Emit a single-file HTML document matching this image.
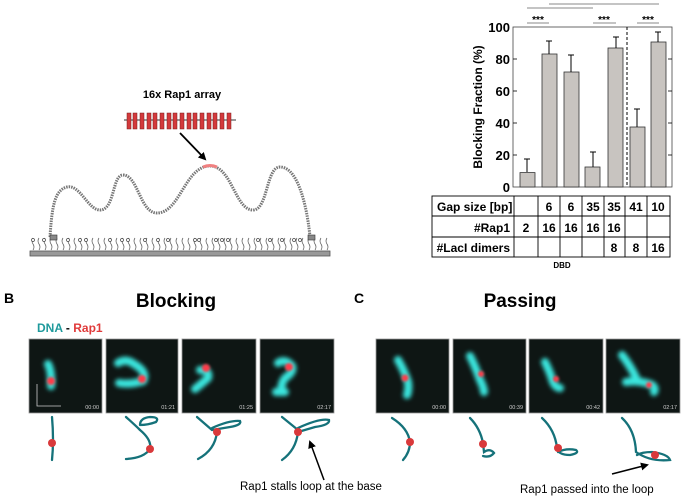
<!DOCTYPE html>
<html><head><style>
html,body{margin:0;padding:0;background:#fff}
svg{display:block}
text{font-family:"Liberation Sans",sans-serif}
</style></head><body>
<svg width="684" height="498" viewBox="0 0 684 498" xmlns="http://www.w3.org/2000/svg">
<defs>
<filter id="bl" x="-50%" y="-50%" width="200%" height="200%"><feGaussianBlur stdDeviation="2"/></filter>
<filter id="bl2" x="-50%" y="-50%" width="200%" height="200%"><feGaussianBlur stdDeviation="1.2"/></filter>
<marker id="ah" markerWidth="8" markerHeight="8" refX="6" refY="4" orient="auto" markerUnits="userSpaceOnUse"><path d="M0,0 L8,4 L0,8 z" fill="#000"/></marker>
</defs>

<text x="182" y="98" font-size="11" font-weight="bold" text-anchor="middle">16x Rap1 array</text>
<line x1="124" y1="120" x2="236" y2="120" stroke="#333" stroke-width="1"/>
<g fill="#d33a3c" stroke="#7a1a1a" stroke-width="0.5">
<rect x="127" y="113" width="4" height="16"/><rect x="133" y="113" width="4" height="16"/><rect x="140" y="113" width="4" height="16"/><rect x="147" y="113" width="4" height="16"/><rect x="153" y="113" width="4" height="16"/><rect x="160" y="113" width="4" height="16"/><rect x="167" y="113" width="4" height="16"/><rect x="173" y="113" width="4" height="16"/><rect x="180" y="113" width="4" height="16"/><rect x="187" y="113" width="4" height="16"/><rect x="193" y="113" width="4" height="16"/><rect x="200" y="113" width="4" height="16"/><rect x="207" y="113" width="4" height="16"/><rect x="213" y="113" width="4" height="16"/><rect x="220" y="113" width="4" height="16"/><rect x="227" y="113" width="4" height="16"/>
</g>
<line x1="180" y1="133" x2="205" y2="159" stroke="#000" stroke-width="1.8" marker-end="url(#ah)"/>
<path d="M50,237 C52,205 55,190 67,187 C80,184 88,210 100,210 C115,210 112,175 123,175 C138,175 140,213 157,213 C180,213 185,166 210,166 C232,166 235,210 253,210 C268,210 266,167 280,167 C300,167 308,215 310,237" fill="none" stroke="#777" stroke-width="3" stroke-dasharray="1.5 1"/>
<path d="M203,167 Q210,164 217,167" fill="none" stroke="#f08080" stroke-width="3"/>
<rect x="30" y="251" width="300" height="5" fill="#999" stroke="#555" stroke-width="0.8"/>
<g stroke="#555" stroke-width="0.7" fill="none">
<path d="M33,250 q2,-3 0,-6 q-2,-3 0,-6 M39,250 q2,-3 0,-6 q-2,-3 0,-6 M45,250 q2,-3 0,-6 q-2,-3 0,-6 M51,250 q2,-3 0,-6 q-2,-3 0,-6 M57,250 q2,-3 0,-6 q-2,-3 0,-6 M63,250 q2,-3 0,-6 q-2,-3 0,-6 M69,250 q2,-3 0,-6 q-2,-3 0,-6 M75,250 q2,-3 0,-6 q-2,-3 0,-6 M81,250 q2,-3 0,-6 q-2,-3 0,-6 M87,250 q2,-3 0,-6 q-2,-3 0,-6 M93,250 q2,-3 0,-6 q-2,-3 0,-6 M99,250 q2,-3 0,-6 q-2,-3 0,-6 M105,250 q2,-3 0,-6 q-2,-3 0,-6 M111,250 q2,-3 0,-6 q-2,-3 0,-6 M117,250 q2,-3 0,-6 q-2,-3 0,-6 M123,250 q2,-3 0,-6 q-2,-3 0,-6 M129,250 q2,-3 0,-6 q-2,-3 0,-6 M135,250 q2,-3 0,-6 q-2,-3 0,-6 M141,250 q2,-3 0,-6 q-2,-3 0,-6 M147,250 q2,-3 0,-6 q-2,-3 0,-6 M153,250 q2,-3 0,-6 q-2,-3 0,-6 M159,250 q2,-3 0,-6 q-2,-3 0,-6 M165,250 q2,-3 0,-6 q-2,-3 0,-6 M171,250 q2,-3 0,-6 q-2,-3 0,-6 M177,250 q2,-3 0,-6 q-2,-3 0,-6 M183,250 q2,-3 0,-6 q-2,-3 0,-6 M189,250 q2,-3 0,-6 q-2,-3 0,-6 M195,250 q2,-3 0,-6 q-2,-3 0,-6 M201,250 q2,-3 0,-6 q-2,-3 0,-6 M207,250 q2,-3 0,-6 q-2,-3 0,-6 M213,250 q2,-3 0,-6 q-2,-3 0,-6 M219,250 q2,-3 0,-6 q-2,-3 0,-6 M225,250 q2,-3 0,-6 q-2,-3 0,-6 M231,250 q2,-3 0,-6 q-2,-3 0,-6 M237,250 q2,-3 0,-6 q-2,-3 0,-6 M243,250 q2,-3 0,-6 q-2,-3 0,-6 M249,250 q2,-3 0,-6 q-2,-3 0,-6 M255,250 q2,-3 0,-6 q-2,-3 0,-6 M261,250 q2,-3 0,-6 q-2,-3 0,-6 M267,250 q2,-3 0,-6 q-2,-3 0,-6 M273,250 q2,-3 0,-6 q-2,-3 0,-6 M279,250 q2,-3 0,-6 q-2,-3 0,-6 M285,250 q2,-3 0,-6 q-2,-3 0,-6 M291,250 q2,-3 0,-6 q-2,-3 0,-6 M297,250 q2,-3 0,-6 q-2,-3 0,-6 M303,250 q2,-3 0,-6 q-2,-3 0,-6 M309,250 q2,-3 0,-6 q-2,-3 0,-6 M315,250 q2,-3 0,-6 q-2,-3 0,-6 M321,250 q2,-3 0,-6 q-2,-3 0,-6 M327,250 q2,-3 0,-6 q-2,-3 0,-6"/>
</g>
<g fill="#fff" stroke="#444" stroke-width="0.7">
<circle cx="33" cy="240" r="1.5"/><circle cx="44" cy="240" r="1.5"/><circle cx="68" cy="240" r="1.5"/><circle cx="80" cy="240" r="1.5"/><circle cx="86" cy="240" r="1.5"/><circle cx="110" cy="240" r="1.5"/><circle cx="122" cy="240" r="1.5"/><circle cx="128" cy="240" r="1.5"/><circle cx="145" cy="240" r="1.5"/><circle cx="158" cy="240" r="1.5"/><circle cx="168" cy="240" r="1.5"/><circle cx="195" cy="240" r="1.5"/><circle cx="199" cy="240" r="1.5"/><circle cx="216" cy="240" r="1.5"/><circle cx="222" cy="240" r="1.5"/><circle cx="228" cy="240" r="1.5"/><circle cx="258" cy="240" r="1.5"/><circle cx="270" cy="240" r="1.5"/><circle cx="282" cy="240" r="1.5"/><circle cx="294" cy="240" r="1.5"/><circle cx="300" cy="240" r="1.5"/>
</g>
<rect x="50" y="235" width="7" height="5" fill="#888" stroke="#333" stroke-width="0.6"/>
<rect x="308" y="235" width="7" height="5" fill="#888" stroke="#333" stroke-width="0.6"/>

<line x1="527" y1="8" x2="593" y2="8" stroke="#888" stroke-width="1"/>
<line x1="549" y1="4" x2="659" y2="4" stroke="#888" stroke-width="1"/>
<g stroke="#888" stroke-width="1"><line x1="527" y1="23" x2="549" y2="23"/><line x1="593" y1="23" x2="616" y2="23"/><line x1="637" y1="23" x2="659" y2="23"/></g>
<g font-size="10" font-weight="bold" text-anchor="middle"><text x="538" y="23">***</text><text x="604" y="23">***</text><text x="648" y="23">***</text></g>
<rect x="513" y="27" width="159" height="160" fill="none" stroke="#444" stroke-width="0.8"/>
<line x1="627" y1="27" x2="627" y2="187" stroke="#000" stroke-width="1" stroke-dasharray="3 2"/>
<g stroke="#000" stroke-width="0.8">
<line x1="513" y1="155" x2="517" y2="155"/><line x1="513" y1="123" x2="517" y2="123"/><line x1="513" y1="91" x2="517" y2="91"/><line x1="513" y1="59" x2="517" y2="59"/>
<line x1="668" y1="155" x2="672" y2="155"/><line x1="668" y1="123" x2="672" y2="123"/><line x1="668" y1="91" x2="672" y2="91"/><line x1="668" y1="59" x2="672" y2="59"/>
</g>
<g font-size="13" font-weight="bold" text-anchor="end"><text x="510" y="32">100</text><text x="510" y="64">80</text><text x="510" y="96">60</text><text x="510" y="128">40</text><text x="510" y="160">20</text><text x="510" y="192">0</text></g>
<text transform="translate(482,107) rotate(-90)" font-size="12" font-weight="bold" text-anchor="middle">Blocking Fraction (%)</text>
<g fill="#c8c4c0" stroke="#333" stroke-width="0.8">
<rect x="520" y="172.6" width="15" height="14.4"/><rect x="542" y="54" width="15" height="133"/><rect x="564" y="72" width="15" height="115"/><rect x="585" y="167" width="15" height="20"/><rect x="608" y="48" width="15" height="139"/><rect x="630" y="127" width="15" height="60"/><rect x="651" y="42" width="15" height="145"/>
</g>
<g stroke="#000" stroke-width="1" fill="none">
<path d="M527,172 V159 M524,159 H530"/><path d="M549,54 V41 M546,41 H552"/><path d="M571,72 V55 M568,55 H574"/><path d="M593,167 V152 M590,152 H596"/><path d="M616,48 V37 M613,37 H619"/><path d="M637,127 V109 M634,109 H640"/><path d="M658,42 V32 M655,32 H661"/>
</g>
<g stroke="#000" stroke-width="0.9" fill="none">
<rect x="432" y="196" width="238" height="61"/>
<line x1="432" y1="216" x2="670" y2="216"/><line x1="432" y1="237" x2="670" y2="237"/>
<line x1="514" y1="196" x2="514" y2="257"/><line x1="538" y1="196" x2="538" y2="257"/><line x1="560" y1="196" x2="560" y2="257"/><line x1="582" y1="196" x2="582" y2="257"/><line x1="604" y1="196" x2="604" y2="257"/><line x1="625" y1="196" x2="625" y2="257"/><line x1="647" y1="196" x2="647" y2="257"/>
</g>
<g font-size="12" font-weight="bold">
<text x="437" y="211">Gap size [bp]</text>
<text x="510" y="232" text-anchor="end">#Rap1</text>
<text x="510" y="252" text-anchor="end">#LacI dimers</text>
<g text-anchor="middle">
<text x="549" y="211">6</text><text x="571" y="211">6</text><text x="593" y="211">35</text><text x="614" y="211">35</text><text x="636" y="211">41</text><text x="658" y="211">10</text>
<text x="526" y="232">2</text><text x="549" y="232">16</text><text x="571" y="232">16</text><text x="593" y="232">16</text><text x="614" y="232">16</text>
<text x="614" y="252">8</text><text x="636" y="252">8</text><text x="658" y="252">16</text>
</g></g>
<text x="562" y="268" font-size="8" font-weight="bold" text-anchor="middle">DBD</text>

<text x="4" y="303" font-size="14" font-weight="bold">B</text>
<text x="176" y="307" font-size="19" font-weight="bold" text-anchor="middle">Blocking</text>
<text x="354" y="303" font-size="14" font-weight="bold">C</text>
<text x="520" y="307" font-size="19" font-weight="bold" text-anchor="middle">Passing</text>
<text x="37" y="332" font-size="12" font-weight="bold"><tspan fill="#1f9a9c">DNA</tspan><tspan fill="#000"> - </tspan><tspan fill="#e03a3a">Rap1</tspan></text>

<g fill="#0e1614" stroke="#999" stroke-width="0.8">
<rect x="29" y="339" width="73" height="74"/><rect x="106" y="339" width="72" height="74"/><rect x="182" y="339" width="74" height="74"/><rect x="260" y="339" width="74" height="74"/>
<rect x="376" y="339" width="73" height="74"/><rect x="453" y="339" width="73" height="74"/><rect x="529" y="339" width="74" height="74"/><rect x="606" y="339" width="74" height="74"/>
</g>
<g fill="none" stroke="#3ae6de" stroke-width="8" stroke-linecap="round" filter="url(#bl)">
<path d="M48,364 Q52,372 51,386"/>
<path d="M118,363 Q126,358 134,364 M134,364 Q148,372 143,381 Q130,385 119,383"/>
<path d="M200,370 Q210,370 208,378 Q200,385 195,389"/>
<path d="M278,363 Q285,358 292,366 M292,366 Q294,372 285,378 Q280,385 282,392 M285,392 H276"/>
<path d="M398,360 Q404,370 408,382 Q409,390 407,395"/>
<path d="M470,356 Q476,368 480,380 Q484,388 484,392"/>
<path d="M545,362 Q550,372 553,382 Q556,388 560,388"/>
<path d="M622,355 Q632,368 637,380 M626,382 Q640,380 652,385 Q656,388 654,392"/>
</g>
<g fill="#ff3a4a" filter="url(#bl2)">
<circle cx="51" cy="381" r="4"/><circle cx="142" cy="379" r="4"/><circle cx="206" cy="368" r="4"/><circle cx="289" cy="367" r="4"/>
<circle cx="405" cy="378" r="3.5"/><circle cx="481" cy="374" r="3"/><circle cx="556" cy="379" r="3"/><circle cx="649" cy="385" r="3"/>
</g>
<g fill="#ccc" font-size="5.5" text-anchor="end">
<text x="99" y="409">00:00</text><text x="175" y="409">01:21</text><text x="253" y="409">01:25</text><text x="331" y="409">02:17</text>
<text x="446" y="409">00:00</text><text x="523" y="409">00:39</text><text x="600" y="409">00:42</text><text x="677" y="409">02:17</text>
</g>
<path d="M37,384 V406 H61" fill="none" stroke="#ccc" stroke-width="0.8"/>

<g fill="none" stroke="#15727a" stroke-width="2.3" stroke-linecap="round">
<path d="M52,417 Q54,440 52,460"/>
<path d="M126,417 Q135,425 140,430 M140,425 Q140,418 150,417 Q160,417 156,422 Q148,425 140,425 M140,430 Q152,440 150,449 Q144,458 126,459"/>
<path d="M197,417 L212,430 M212,428 Q230,420 240,421 Q242,425 230,427 L212,430 M217,432 Q215,450 198,459"/>
<path d="M282,417 L298,430 M298,428 Q320,418 329,420 Q330,425 315,427 L298,432 M298,432 Q296,450 282,460"/>
<path d="M392,418 Q408,428 410,442 Q410,452 403,460"/>
<path d="M470,418 Q480,428 483,443 L484,452 Q490,448 494,453 Q490,458 483,456"/>
<path d="M542,418 Q555,430 557,448 Q558,455 570,455 Q580,453 576,450 Q566,448 558,452"/>
<path d="M622,418 Q635,430 636,452 Q650,462 670,460 Q668,454 652,452 Q642,452 637,455"/>
</g>
<g fill="#d9393b">
<circle cx="52" cy="443" r="4"/><circle cx="150" cy="449" r="4"/><circle cx="217" cy="432" r="4"/><circle cx="298" cy="432" r="4"/>
<circle cx="410" cy="442" r="4"/><circle cx="483" cy="444" r="4"/><circle cx="558" cy="448" r="4"/><circle cx="655" cy="455" r="4"/>
</g>

<line x1="324" y1="480" x2="310" y2="442" stroke="#000" stroke-width="1.5" marker-end="url(#ah)"/>
<text x="240" y="490" font-size="11.5">Rap1 stalls loop at the base</text>
<line x1="612" y1="474" x2="647" y2="465" stroke="#000" stroke-width="1.5" marker-end="url(#ah)"/>
<text x="520" y="493" font-size="11.5">Rap1 passed into the loop</text>
</svg>
</body></html>
